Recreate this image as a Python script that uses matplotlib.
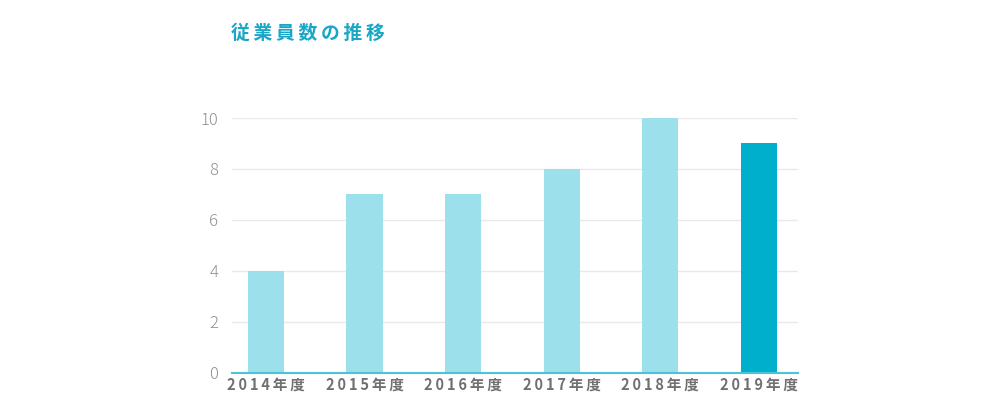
import matplotlib.pyplot as plt
import numpy as np

plt.rcParams['font.family'] = ['Noto Sans CJK JP', 'DejaVu Sans']

# data
years = ['2014年度', '2015年度', '2016年度', '2017年度', '2018年度', '2019年度']
employees = [4, 7, 7, 8, 10, 9]
colors = ['#9be0eb'] * 5 + ['#00afcb']
title = '従業員数の推移'


def spaced(s):
    # letter spacing by thin spaces (taken from DejaVu Sans)
    return '\u2009'.join(s)


fig = plt.figure(figsize=(10, 4.2), dpi=100)
ax = fig.add_axes([0.232, 0.113, 0.566, 0.606])

x = np.arange(len(years))
ax.bar(x, employees, width=0.366, color=colors, zorder=2)

ax.set_xlim(-0.345, 5.40)
ax.set_ylim(0, 10)
ax.set_yticks([0, 2, 4, 6, 8, 10])
ax.set_xticks(x)
ax.set_xticklabels([spaced(y) for y in years], fontsize=10.5, fontweight='bold',
                   color='#707070')
ax.tick_params(axis='y', length=0, pad=10, labelsize=12, labelcolor='#909090')
ax.tick_params(axis='x', length=0, pad=3)
for lab in ax.get_yticklabels():
    lab.set_fontweight('light')

ax.grid(axis='y', color='#e9e9e9', linewidth=1, zorder=0)
for s in ['top', 'right', 'left']:
    ax.spines[s].set_visible(False)
ax.spines['bottom'].set_color('#4cc4d7')
ax.spines['bottom'].set_linewidth(1.5)
ax.spines['bottom'].set_zorder(3)

fig.text(0.231, 0.92, spaced(title), fontsize=13.5, fontweight='bold',
         color='#1aa7c7', ha='left', va='center')

fig.savefig('out.png', dpi=100)
